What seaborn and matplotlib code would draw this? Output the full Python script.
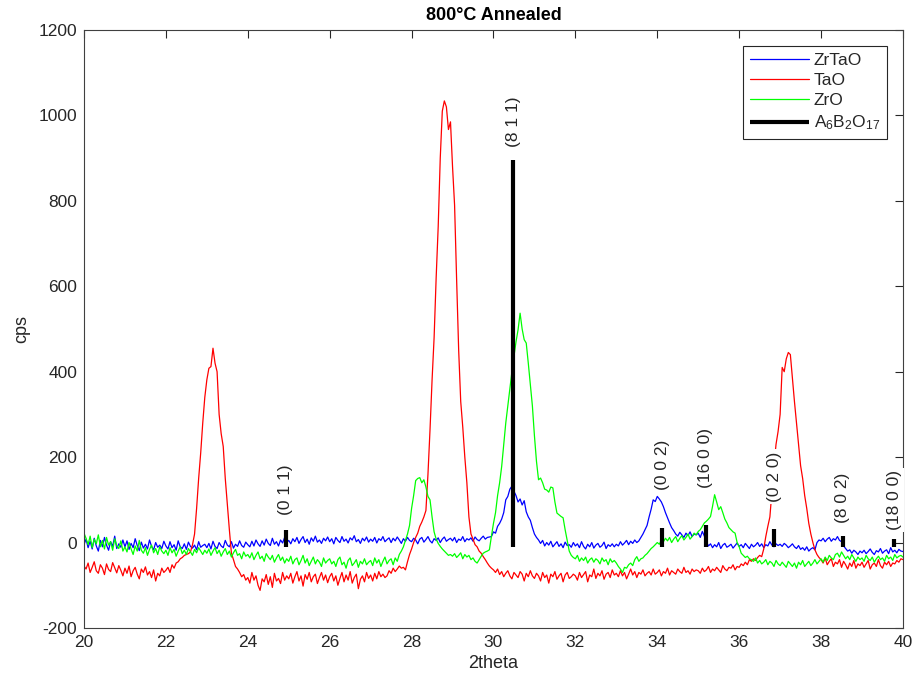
import numpy as np
import pandas as pd
import matplotlib
matplotlib.use("Agg")
import matplotlib.pyplot as plt
import seaborn as sns

# ---------------- data ----------------
two_theta = np.linspace(20.0, 40.0, 401)   # 0.05 deg sampling

zrtao_rows = [
    [-5, 8, -12, 3, -15, 10, -8, -20, 5, -10, 12, -6, -18, 2, -9, 15, -14, -3, -11, 6],
    [-10, 4, -16, -2, -12, 9, -7, -19, 1, -13, -4, -15, 6, -9, -17, 0, -11, -6, -14, 3],
    [-8, -15, 2, -12, -5, -18, 4, -10, -14, -3, -16, 1, -9, -13, -6, -17, 2, -11, -7, -4],
    [-12, -2, -15, 3, -9, -14, 0, -8, -12, 5, -6, -10, 2, -13, -4, -9, 4, -7, -11, 1],
    [-5, -10, 3, -8, 6, -3, -9, 4, -6, 8, -2, -7, 10, -4, 2, -8, 6, -1, 12, 0],
    [5, -3, 9, 2, 12, -2, 7, 14, 0, 8, -4, 11, 3, 15, 1, 6, -2, 10, 4, 13],
    [2, 9, -3, 12, 5, 0, 14, 3, 8, -1, 11, 6, 16, 2, 7, -2, 10, 4, 13, 1],
    [8, 3, 12, -1, 9, 5, 14, 2, 7, 11, 0, 10, 4, 13, 6, -2, 9, 3, 12, 5],
    [2, 10, 6, -3, 8, 12, 1, 7, 14, 4, -1, 9, 5, 11, 0, 8, 13, 3, 7, 10],
    [4, 12, 0, 8, 5, 14, 2, 9, 6, 11, 3, 13, 7, 4, 10, 15, 8, 12, 13, 14],
    [25, 22, 38, 45, 55, 70, 100, 108, 125, 132, 120, 110, 95, 102, 88, 98, 72, 60, 52, 35],
    [20, 12, 6, -2, 5, -8, 0, -6, 3, -10, -4, 2, -9, -3, -12, 1, -7, -5, -11, 0],
    [-8, -3, -12, 2, -9, -15, -4, -10, 0, -13, -6, -2, -11, -7, 1, -14, -5, -9, -3, -10],
    [-4, -8, 2, -6, -1, 5, -5, 3, -2, 6, 0, 4, 12, 20, 30, 40, 60, 78, 100, 96],
    [108, 102, 95, 84, 70, 58, 46, 35, 28, 20, 15, 24, 18, 12, 22, 16, 25, 14, 20, 18],
    [22, 12, 26, 15, 2, -8, -3, -12, -5, -10, 0, -14, -6, -2, -11, -8, -4, -13, -7, -1],
    [-9, -5, -12, -2, -8, -14, -4, -10, -6, 0, -9, -3, -12, -5, -8, 2, -6, -10, -3, -7],
    [-4, -9, -2, -6, -12, -8, -3, -10, -14, -7, -16, -12, -18, -10, -20, -15, -12, -17, 0, 6],
    [4, 10, 2, 8, 12, 3, 9, 6, 14, 5, 2, -8, -14, -20, -17, -25, -18, -22, -28, -20],
    [-24, -18, -26, -21, -15, -23, -28, -19, -22, -14, -25, -20, -17, -26, -12, -22, -18, -24, -16, -20],
    [-21],
]

tao_rows = [
    [-55, -62, -48, -70, -58, -45, -66, -72, -52, -60, -75, -50, -63, -68, -47, -59, -71, -54, -65, -78],
    [-60, -72, -55, -80, -66, -58, -74, -85, -62, -70, -57, -76, -68, -82, -64, -90, -72, -78, -60, -70],
    [-65, -58, -70, -52, -60, -48, -45, -38, -35, -30, -28, -26, -22, -5, 20, 80, 150, 210, 280, 340],
    [381, 408, 412, 455, 420, 400, 300, 255, 225, 150, 90, 30, -25, -40, -56, -62, -70, -80, -75, -88],
    [-82, -95, -70, -88, -78, -100, -112, -85, -92, -75, -98, -80, -105, -72, -90, -84, -96, -70, -88, -78],
    [-85, -72, -95, -80, -68, -90, -78, -102, -75, -86, -70, -92, -80, -74, -96, -82, -70, -88, -76, -94],
    [-80, -72, -90, -78, -100, -84, -70, -92, -76, -88, -68, -95, -82, -74, -108, -86, -78, -92, -70, -84],
    [-76, -90, -72, -85, -68, -80, -74, -82, -78, -66, -72, -60, -68, -62, -55, -60, -58, -64, -45, -28],
    [-15, 0, 12, 22, 38, 48, 60, 75, 160, 264, 380, 480, 620, 740, 900, 1010, 1034, 1020, 967, 985],
    [880, 790, 615, 450, 330, 270, 200, 140, 60, 20, 8, -5, -10, -20, -25, -33, -40, -48, -55, -60],
    [-64, -70, -62, -75, -68, -80, -72, -66, -78, -85, -70, -76, -82, -68, -74, -90, -72, -80, -66, -78],
    [-84, -72, -78, -90, -70, -82, -76, -95, -74, -80, -68, -86, -78, -72, -92, -76, -70, -84, -80, -74],
    [-78, -88, -70, -82, -75, -68, -92, -76, -80, -62, -84, -72, -78, -66, -86, -74, -70, -82, -64, -76],
    [-72, -80, -66, -78, -70, -85, -74, -62, -76, -68, -82, -70, -74, -64, -78, -72, -68, -76, -62, -74],
    [-70, -64, -78, -68, -72, -60, -76, -66, -70, -74, -62, -68, -72, -58, -70, -66, -74, -62, -68, -64],
    [-66, -72, -60, -68, -64, -56, -70, -62, -66, -58, -64, -70, -54, -62, -66, -58, -60, -52, -64, -56],
    [-58, -50, -54, -46, -52, -40, -44, -38, -42, -35, -30, -33, -15, 14, 38, 60, 120, 180, 230, 260],
    [300, 410, 400, 430, 445, 440, 385, 330, 280, 230, 180, 150, 110, 80, 45, 20, 0, -17, -28, -35],
    [-40, -48, -36, -52, -44, -38, -56, -46, -50, -40, -58, -44, -52, -62, -48, -56, -42, -60, -50, -54],
    [-46, -58, -50, -42, -62, -52, -48, -56, -40, -54, -60, -46, -52, -44, -56, -48, -50, -42, -46, -38],
    [-40],
]

zro_rows = [
    [22, 10, -5, 15, -12, 8, -3, 18, -10, 5, -15, 12, -6, 2, -18, 9, -8, -14, 4, -20],
    [-10, -22, 0, -15, -28, -8, -20, 5, -18, -25, -12, -30, -16, -6, -24, -14, -28, -10, -20, -26],
    [-18, -30, -12, -24, -16, -32, -20, -10, -26, -18, -28, -14, -22, -30, -16, -24, -12, -20, -28, -18],
    [-25, -15, -30, -20, -12, -26, -18, -32, -22, -14, -28, -20, -34, -24, -16, -30, -26, -38, -22, -32],
    [-28, -36, -24, -40, -30, -22, -38, -32, -44, -26, -34, -40, -30, -46, -36, -28, -42, -34, -48, -38],
    [-44, -32, -50, -40, -36, -52, -42, -30, -48, -38, -54, -44, -34, -50, -40, -46, -56, -36, -48, -42],
    [-38, -50, -44, -56, -40, -34, -52, -46, -60, -42, -36, -54, -48, -40, -58, -44, -50, -38, -52, -46],
    [-42, -54, -36, -48, -40, -56, -44, -34, -50, -42, -38, -52, -36, -44, -28, -20, -10, 5, 20, 40],
    [80, 110, 145, 150, 152, 140, 147, 130, 108, 100, 60, 25, 8, -2, -9, -15, -20, -25, -30, -28],
    [-32, -26, -35, -30, -24, -38, -28, -34, -30, -40, -36, -44, -48, -40, -32, -25, -22, -20, -17, 15],
    [45, 70, 110, 140, 178, 230, 280, 320, 358, 400, 436, 470, 498, 537, 500, 475, 467, 420, 370, 320],
    [250, 190, 147, 151, 140, 125, 123, 118, 130, 128, 95, 69, 65, 61, 58, 30, 5, -20, -30, -35],
    [-38, -30, -44, -36, -42, -34, -48, -40, -36, -46, -38, -42, -50, -36, -44, -40, -52, -38, -46, -42],
    [-48, -56, -62, -70, -58, -60, -52, -48, -54, -40, -33, -44, -38, -36, -30, -26, -20, -14, -10, -5],
    [0, -4, 6, 2, 10, 4, 12, 0, 8, 14, 2, 10, 16, 6, 12, 20, 8, 14, 22, 18],
    [26, 30, 38, 46, 50, 55, 61, 85, 112, 95, 77, 84, 70, 55, 46, 35, 30, 25, 22, 0],
    [-10, -25, -30, -35, -32, -38, -40, -44, -36, -48, -42, -50, -46, -40, -52, -44, -48, -56, -42, -50],
    [-54, -46, -52, -58, -44, -50, -56, -48, -60, -46, -52, -42, -56, -50, -44, -54, -48, -40, -50, -44],
    [-38, -46, -34, -42, -30, -36, -40, -28, -25, -34, -22, -30, -38, -32, -40, -28, -36, -44, -34, -40],
    [-36, -44, -30, -38, -42, -34, -46, -38, -32, -40, -36, -44, -30, -38, -34, -42, -28, -36, -32, -30],
    [-34],
]

zrtao = [v for r in zrtao_rows for v in r]
tao = [v for r in tao_rows for v in r]
zro = [v for r in zro_rows for v in r]

series_names = ["ZrTaO", "TaO", "ZrO"]

# A6B2O17 reference sticks
stick_pos = [24.93, 30.48, 34.12, 35.18, 36.86, 38.53, 39.79]
stick_height = [30, 895, 35, 41, 32, 16, 8]
stick_base = -10
stick_labels = ["(0 1 1)", "(8 1 1)", "(0 0 2)", "(16 0 0)", "(0 2 0)", "(8 0 2)", "(18 0 0)"]
label_y = [65, 927, 123, 128, 96, 46, 30]

x_ticks = [20, 22, 24, 26, 28, 30, 32, 34, 36, 38, 40]
y_ticks = [-200, 0, 200, 400, 600, 800, 1000, 1200]

# ---------------- plotting ----------------
sns.set_style("white")
plt.rcParams["font.family"] = ["Liberation Sans", "DejaVu Sans"]
plt.rcParams["mathtext.fontset"] = "custom"
plt.rcParams["mathtext.rm"] = "Liberation Sans"
plt.rcParams["mathtext.it"] = "Liberation Sans"
plt.rcParams["axes.unicode_minus"] = False

df = pd.DataFrame({"2theta": two_theta, "ZrTaO": zrtao, "TaO": tao, "ZrO": zro})
long_df = df.melt(id_vars="2theta", var_name="sample", value_name="cps")

fig = plt.figure(figsize=(9.17, 6.9), dpi=100)
ax = fig.add_axes([0.0916, 0.0899, 0.8931, 0.8666])

palette = {"ZrTaO": "#0000ff", "TaO": "#ff0000", "ZrO": "#00ff00"}
sns.lineplot(data=long_df, x="2theta", y="cps", hue="sample", hue_order=series_names,
             palette=palette, estimator=None, linewidth=0.9, legend=False, ax=ax)
for line, name in zip(ax.lines, series_names):
    line.set_label(name)

ax.vlines(stick_pos, stick_base, stick_height, colors="black", linewidth=3,
          label=r"$\mathregular{A_6B_2O_{17}}$", zorder=4)

for xp, yp, txt in zip(stick_pos, label_y, stick_labels):
    ax.text(xp, yp, txt, rotation=90, ha="center", va="bottom", fontsize=12.5,
            color="#262626", zorder=5,
            bbox=dict(facecolor="white", edgecolor="none", pad=1.5))

ax.set_xlim(20, 40)
ax.set_ylim(-200, 1200)
ax.set_xticks(x_ticks)
ax.set_yticks(y_ticks)
ax.tick_params(direction="in", top=True, right=True, length=6, width=0.8,
               colors="#262626", labelsize=12.5, pad=5)
for sp in ax.spines.values():
    sp.set_color("#404040")
    sp.set_linewidth(0.8)

ax.set_xlabel("2theta", fontsize=13, color="#262626", labelpad=4)
ax.set_ylabel("cps", fontsize=13, color="#262626", labelpad=6)
ax.set_title("800°C Annealed", fontsize=13, fontweight="bold", color="black", pad=7)

leg = ax.legend(loc="upper right", fontsize=12.5, frameon=True, fancybox=False,
                framealpha=1, edgecolor="#262626", handlelength=3.4,
                borderaxespad=0.9, labelspacing=0.3, handletextpad=0.3,
                borderpad=0.4)
leg.get_frame().set_linewidth(0.8)
for t in leg.get_texts():
    t.set_color("#262626")

fig.savefig("out.png", dpi=100)
